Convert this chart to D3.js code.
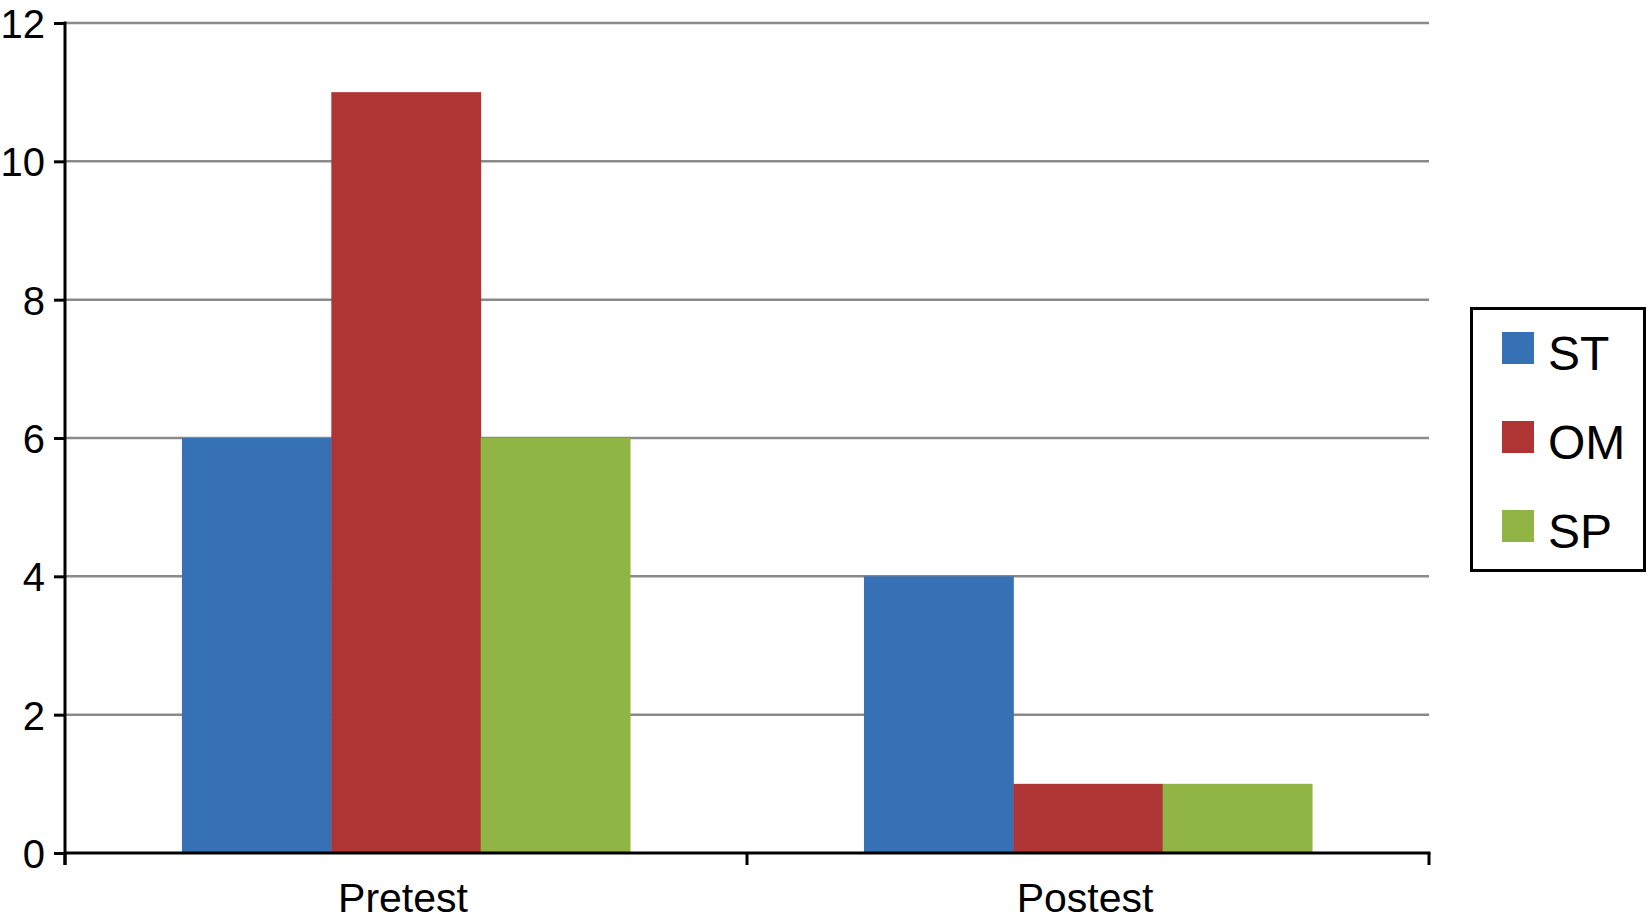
<!DOCTYPE html>
<html lang="en">
<head>
<meta charset="UTF-8">
<title>Pretest / Postest</title>
<script src="https://d3js.org/d3.v7.min.js"></script>
<style>
  body { margin: 0; background: #fff; font-family: "Liberation Sans", Arial, Helvetica, sans-serif; }
  .grid line { stroke: #8a8a8a; stroke-width: 2.5px; }
  .axis path, .axis line { stroke: #000; stroke-width: 3px; }
  .axis text { fill: #000; font-family: "Liberation Sans", Arial, sans-serif; }
</style>
</head>
<body>
<div id="chart"></div>
<script>
// data
var categories = ["Pretest", "Postest"];
var series = ["ST", "OM", "SP"];
var values = {
  ST: [6, 4],
  OM: [11, 1],
  SP: [6, 1]
};
var yTicks = [0, 2, 4, 6, 8, 10, 12];
var colors = ["#3771b5", "#ae3533", "#91b544"];

var width = 1648, height = 921;
// plot edges (note: "top" is taken by window.top)
var plotL = 65, plotR = 1429, plotT = 23, plotB = 853;

var svg = d3.select("#chart").append("svg")
    .attr("width", width)
    .attr("height", height);

var x = d3.scaleBand()
    .domain(categories)
    .range([plotL, plotR])
    .paddingInner(0.343)
    .paddingOuter(0.1715);

var xs = d3.scaleBand()
    .domain(series)
    .range([0, x.bandwidth()]);

var y = d3.scaleLinear()
    .domain([0, 12])
    .range([plotB, plotT]);

var color = d3.scaleOrdinal().domain(series).range(colors);

// gridlines
svg.append("g")
    .attr("class", "grid")
    .selectAll("line")
    .data(yTicks.filter(function(d) { return d > 0; }))
    .enter().append("line")
    .attr("x1", plotL)
    .attr("x2", plotR)
    .attr("y1", function(d) { return y(d); })
    .attr("y2", function(d) { return y(d); });

// bars
var rows = [];
categories.forEach(function(c, i) {
  series.forEach(function(s) {
    rows.push({ cat: c, key: s, value: values[s][i] });
  });
});

svg.append("g").selectAll("rect")
    .data(rows)
    .enter().append("rect")
    .attr("x", function(d) { return x(d.cat) + xs(d.key); })
    .attr("width", xs.bandwidth() + 0.5)
    .attr("y", function(d) { return y(d.value); })
    .attr("height", function(d) { return y(0) - y(d.value); })
    .attr("fill", function(d) { return color(d.key); });

// y axis
var yAxis = svg.append("g")
    .attr("class", "axis")
    .attr("transform", "translate(" + plotL + ",0)")
    .call(d3.axisLeft(y).tickValues(yTicks).tickSize(11).tickPadding(9).tickSizeOuter(0));
yAxis.select(".domain").remove();
yAxis.append("line")
    .attr("x1", 0).attr("x2", 0)
    .attr("y1", y(12) - 1.5).attr("y2", y(0) + 12);
yAxis.selectAll("text").style("font-size", "40px").attr("dy", "0.36em");

// x axis with ticks at band edges
var xAxis = svg.append("g")
    .attr("class", "axis")
    .attr("transform", "translate(0," + plotB + ")");
xAxis.append("line")
    .attr("x1", plotL).attr("x2", plotR + 1.5)
    .attr("y1", 0).attr("y2", 0);
var edges = [plotL].concat(categories.map(function(c) { return x(c) + x.bandwidth() + x.step() * x.paddingInner() / 2; }));
edges[edges.length - 1] = plotR;
xAxis.selectAll(".tickx")
    .data(edges)
    .enter().append("line")
    .attr("x1", function(d) { return d; })
    .attr("x2", function(d) { return d; })
    .attr("y1", 0).attr("y2", 12);
xAxis.selectAll(".lbl")
    .data(categories)
    .enter().append("text")
    .attr("x", function(d) { return x(d) + x.bandwidth() / 2 - 3; })
    .attr("y", 59)
    .attr("text-anchor", "middle")
    .style("font-size", "41px")
    .text(function(d) { return d; });

// legend
var legend = svg.append("g").attr("transform", "translate(1470,307)");
legend.append("rect")
    .attr("x", 1.5).attr("y", 1.5)
    .attr("width", 173).attr("height", 262)
    .attr("fill", "#fff")
    .attr("stroke", "#000")
    .attr("stroke-width", 3);
var item = legend.selectAll(".item")
    .data(series)
    .enter().append("g")
    .attr("transform", function(d, i) { return "translate(32," + (25 + i * 89) + ")"; });
item.append("rect")
    .attr("width", 32).attr("height", 32)
    .attr("fill", function(d) { return color(d); });
item.append("text")
    .attr("x", 46)
    .attr("y", 38)
    .style("font-size", "48px")
    .text(function(d) { return d; });
</script>
</body>
</html>
